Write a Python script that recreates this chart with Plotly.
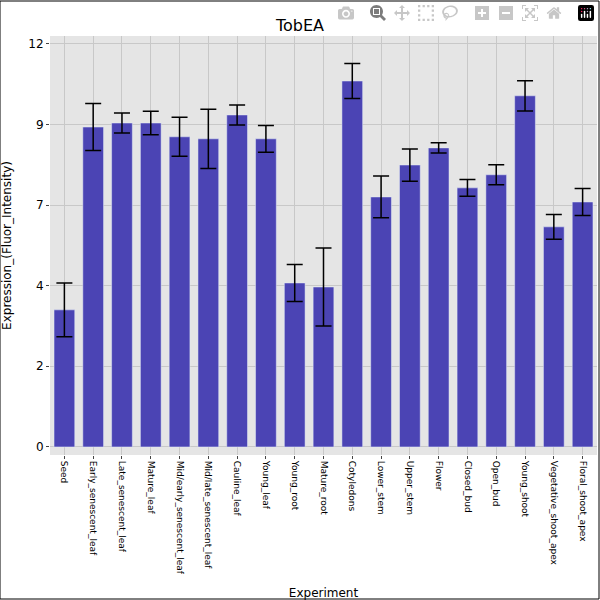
import plotly.graph_objects as go

categories = ["Seed","Early_senescent_leaf","Late_senescent_leaf","Mature_leaf","Mid/early_senescent_leaf",
              "Mid/late_senescent_leaf","Cauline_leaf","Young_leaf","Young_root","Mature_root","Cotyledons",
              "Lower_stem","Upper_stem","Flower","Closed_bud","Open_bud","Young_shoot",
              "Vegetative_shoot_apex","Floral_shoot_apex"]
values = [4.08,9.52,9.64,9.64,9.23,9.17,9.88,9.17,4.88,4.76,10.89,7.44,8.39,8.9,7.71,8.1,10.45,6.55,7.29]
errors = [0.8,0.7,0.3,0.35,0.58,0.88,0.3,0.4,0.55,1.16,0.52,0.62,0.48,0.15,0.25,0.3,0.45,0.37,0.4]
tick_vals = [0,2.4,4.8,7.2,9.6,12]
tick_text = ["0","2","4","7","9","12"]

fig = go.Figure(go.Bar(
    x=categories, y=values,
    error_y=dict(type="data", array=errors, color="black", thickness=1.5, width=8),
    marker=dict(color="#4b44b4"), width=0.72))
fig.update_layout(
    width=600, height=600,
    title=dict(text="TobEA", x=0.5, y=0.967, font=dict(size=16, color="black")),
    font=dict(family="DejaVu Sans", color="black"),
    paper_bgcolor="white", plot_bgcolor="#e5e5e5",
    margin=dict(l=50, r=3, t=36, b=145),
    showlegend=False,
    shapes=[dict(type="rect", xref="paper", yref="paper", x0=-50/547, x1=1+2/547,
                 y0=-144/419, y1=1+35/419, line=dict(color="black", width=1))],
)
fig.update_xaxes(title=dict(text="Experiment", font=dict(size=12)), tickangle=90,
                 tickfont=dict(size=9), showgrid=True, gridcolor="#c8c8c8", ticks="outside",
                 ticklen=3)
fig.update_yaxes(title=dict(text="Expression_(Fluor_Intensity)", font=dict(size=12)),
                 range=[-0.24, 12.23], tickvals=tick_vals, ticktext=tick_text,
                 tickfont=dict(size=12), gridcolor="#c8c8c8", zeroline=False, ticks="outside", ticklen=3)
fig.write_html("out.html", post_script="document.body.style.margin='0';document.body.style.overflow='hidden';")
